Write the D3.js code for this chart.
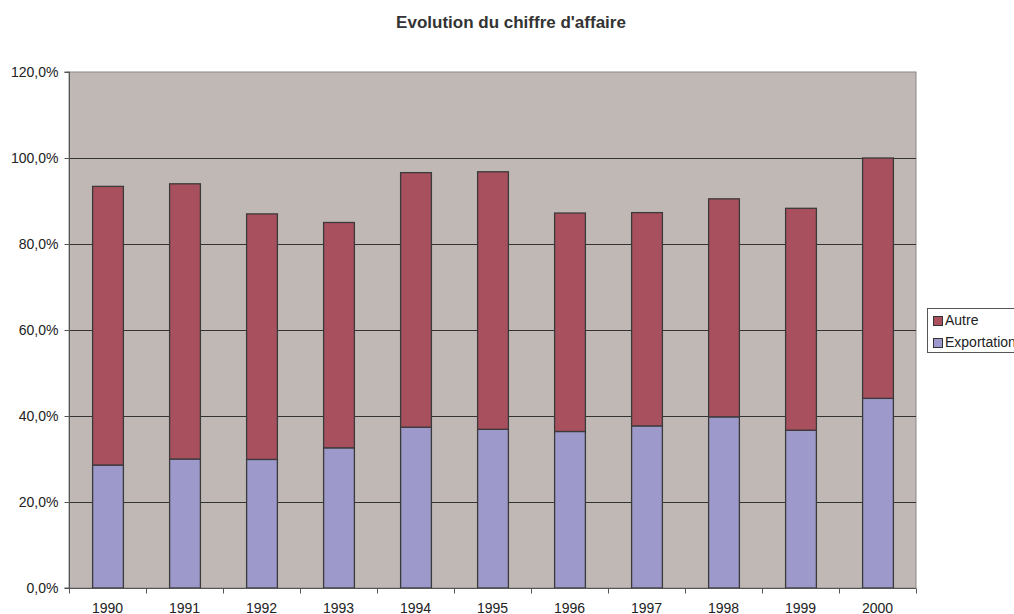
<!DOCTYPE html>
<html><head><meta charset="utf-8">
<script src="https://cdn.jsdelivr.net/npm/d3@7"></script>
<style>body{margin:0;background:#fff;}svg{display:block;font-family:"Liberation Sans",Arial,sans-serif;}</style>
</head><body>
<svg id="c" width="1014" height="614"></svg>
<script>
const years = ["1990","1991","1992","1993","1994","1995","1996","1997","1998","1999","2000"];
const exportation = [28.6, 30.0, 29.9, 32.6, 37.4, 36.9, 36.4, 37.7, 39.8, 36.7, 44.1];
const total = [93.4, 94.0, 87.0, 85.0, 96.6, 96.8, 87.2, 87.3, 90.5, 88.3, 100.0];
const autre = total.map((t, i) => +(t - exportation[i]).toFixed(1));
const yTicks = [0, 20, 40, 60, 80, 100, 120];
const seriesNames = ["Autre", "Exportation"];
const colors = {Autre: "#A8505E", Exportation: "#9D99CB"};

const svg = d3.select("#c");
const m = {l: 69, r: 916, t: 72, b: 588};
const x = d3.scaleBand().domain(years).range([m.l, m.r]).paddingInner(0.6).paddingOuter(0.3);
const xb = d3.scaleBand().domain(years).range([m.l, m.r]);
const y = d3.scaleLinear().domain([0, 120]).range([m.b, m.t]);

svg.append("rect").attr("x", m.l).attr("y", m.t).attr("width", m.r - m.l).attr("height", m.b - m.t)
  .attr("fill", "#C0B8B5").attr("stroke", "#888").attr("stroke-width", 1);

// gridlines
svg.append("g").selectAll("line").data(yTicks.filter(d => d > 0 && d < 120)).join("line")
  .attr("x1", m.l).attr("x2", m.r).attr("y1", d => Math.round(y(d)) + 0.5).attr("y2", d => Math.round(y(d)) + 0.5)
  .attr("stroke", "#333").attr("stroke-width", 1);

const data = years.map((yr, i) => ({year: yr, Exportation: exportation[i], Autre: autre[i]}));
const stack = d3.stack().keys(["Exportation", "Autre"])(data);

svg.append("g").selectAll("g").data(stack).join("g")
  .attr("fill", d => colors[d.key])
  .selectAll("rect").data(d => d).join("rect")
  .attr("x", d => x(d.data.year) + 0.5)
  .attr("width", x.bandwidth())
  .attr("y", d => y(d[1]))
  .attr("height", d => y(d[0]) - y(d[1]))
  .attr("stroke", "#3a3a3a").attr("stroke-width", 1.3);

// axes
const yAxis = d3.axisLeft(y).tickValues(yTicks).tickSize(5).tickPadding(6)
  .tickFormat(d => d3.format(".1f")(d).replace(".", ",") + "%");
const gy = svg.append("g").attr("transform", `translate(${m.l + 0.5},0)`).call(yAxis);
gy.select(".domain").attr("stroke", "#555").attr("d", `M-5,${m.t}H0V${m.b}H-5`);
gy.selectAll(".tick line").attr("stroke", "#555");
gy.selectAll("text").attr("font-size", 14).attr("fill", "#222").attr("font-family", "Liberation Sans, Arial, sans-serif");

const gx = svg.append("g").attr("transform", `translate(0,${m.b + 0.5})`);
gx.append("line").attr("x1", m.l).attr("x2", m.r).attr("stroke", "#555");
gx.selectAll("line.t").data(years.concat(["end"])).join("line").attr("class", "t")
  .attr("x1", (d, i) => Math.round(m.l + i * xb.bandwidth()) + 0.5)
  .attr("x2", (d, i) => Math.round(m.l + i * xb.bandwidth()) + 0.5)
  .attr("y1", 0).attr("y2", 5).attr("stroke", "#555");
gx.selectAll("text").data(years).join("text")
  .attr("x", d => xb(d) + xb.bandwidth() / 2).attr("y", 24)
  .attr("text-anchor", "middle").attr("font-size", 14).attr("fill", "#222").text(d => d);

// title
svg.append("text").attr("x", 511).attr("y", 28).attr("text-anchor", "middle")
  .attr("font-size", 17).attr("font-weight", "bold").attr("fill", "#333").text("Evolution du chiffre d'affaire");

// legend
const lg = svg.append("g");
lg.append("rect").attr("x", 927.5).attr("y", 308.5).attr("width", 110).attr("height", 44)
  .attr("fill", "#fff").attr("stroke", "#555");
seriesNames.forEach((s, i) => {
  lg.append("rect").attr("x", 933.5).attr("y", 316.5 + i * 22).attr("width", 9).attr("height", 9)
    .attr("fill", colors[s]).attr("stroke", "#333");
  lg.append("text").attr("x", 945).attr("y", 325 + i * 22).attr("font-size", 14).attr("fill", "#222").text(s);
});
</script>
</body></html>
